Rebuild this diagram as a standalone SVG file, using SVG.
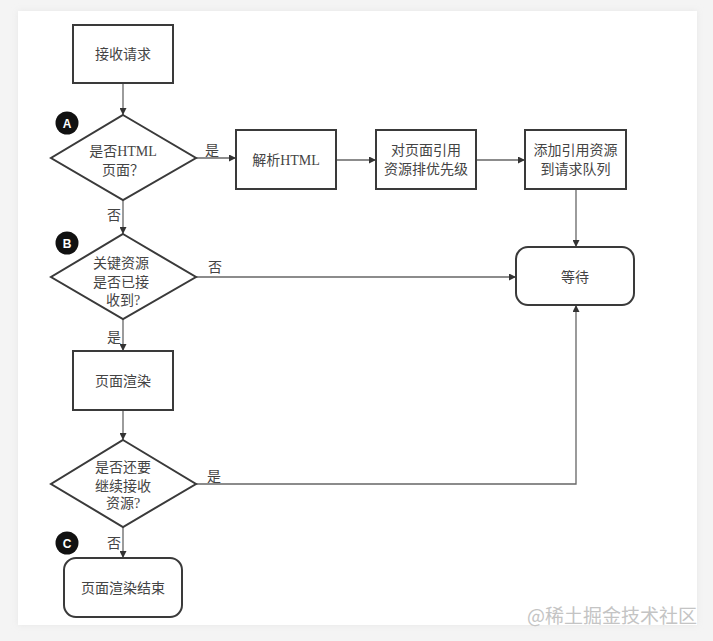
<svg xmlns="http://www.w3.org/2000/svg" width="713" height="641" viewBox="0 0 713 641">
<defs>
<marker id="ah" viewBox="0 0 10 10" refX="10" refY="5" markerWidth="7" markerHeight="7" orient="auto" markerUnits="userSpaceOnUse"><path d="M0,0 L10,5 L0,10 z" fill="#333"/></marker>
<filter id="sh" x="-5%" y="-5%" width="110%" height="110%"><feGaussianBlur stdDeviation="3"/></filter>
<style>
.n{fill:#fff;stroke:#3a3a3a;stroke-width:2}
.t{font-family:"Liberation Serif","Noto Sans CJK SC",serif;font-size:14px;fill:#444;text-anchor:middle}
.l{font-family:"Liberation Serif","Noto Sans CJK SC",serif;font-size:14px;fill:#444}
.c{fill:none;stroke:#666;stroke-width:1.3}
.dot{fill:#111}
.dl{font-family:"Liberation Sans",sans-serif;font-size:12px;font-weight:bold;fill:#fff;text-anchor:middle}
</style>
</defs>
<rect x="0" y="0" width="713" height="641" fill="#f4f4f4"/>
<rect x="18" y="11" width="679" height="614" fill="#e6e6e6" filter="url(#sh)"/>
<rect x="18" y="11" width="679" height="614" fill="#fff"/>
<g id="connectors">
<line class="c" x1="123" y1="83" x2="123" y2="115" marker-end="url(#ah)"/>
<line class="c" x1="196" y1="158" x2="236" y2="158" marker-end="url(#ah)"/>
<line class="c" x1="336" y1="160" x2="376" y2="160" marker-end="url(#ah)"/>
<line class="c" x1="476" y1="160" x2="525" y2="160" marker-end="url(#ah)"/>
<line class="c" x1="576" y1="189" x2="576" y2="247" marker-end="url(#ah)"/>
<line class="c" x1="123" y1="200" x2="123" y2="234" marker-end="url(#ah)"/>
<line class="c" x1="196" y1="277" x2="516" y2="277" marker-end="url(#ah)"/>
<line class="c" x1="123" y1="319" x2="123" y2="351" marker-end="url(#ah)"/>
<line class="c" x1="123" y1="410" x2="123" y2="440" marker-end="url(#ah)"/>
<polyline class="c" points="196,484 576,484 576,305" marker-end="url(#ah)"/>
<line class="c" x1="123" y1="527" x2="123" y2="558" marker-end="url(#ah)"/>
<text class="l" x="205" y="155">是</text>
<text class="l" x="107" y="220">否</text>
<text class="l" x="208" y="272">否</text>
<text class="l" x="107" y="342">是</text>
<text class="l" x="207" y="481">是</text>
<text class="l" x="107" y="548">否</text>
</g>
<g id="n-receive">
<rect class="n" x="73" y="25" width="100" height="58"/>
<text class="t" x="123" y="59">接收请求</text>
</g>
<g id="n-isHtml">
<polygon class="n" points="123,115 196,158 123,200 51,158"/>
<text class="t" x="123" y="156">是否HTML</text>
<text class="t" x="123" y="175">页面？</text>
</g>
<g id="mark-a"><circle class="dot" cx="67" cy="123" r="11.5"/><text class="dl" x="67" y="127.5">A</text></g>
<g id="n-parse">
<rect class="n" x="236" y="130" width="100" height="59"/>
<text class="t" x="286" y="165">解析HTML</text>
</g>
<g id="n-priority">
<rect class="n" x="376" y="130" width="100" height="59"/>
<text class="t" x="426" y="155">对页面引用</text>
<text class="t" x="426" y="174">资源排优先级</text>
</g>
<g id="n-queue">
<rect class="n" x="525" y="130" width="101" height="59"/>
<text class="t" x="575.5" y="155">添加引用资源</text>
<text class="t" x="575.5" y="174">到请求队列</text>
</g>
<g id="n-wait">
<rect class="n" x="516" y="247" width="118" height="58" rx="12"/>
<text class="t" x="575" y="282">等待</text>
</g>
<g id="n-keyRes">
<polygon class="n" points="123,234 196,277 123,319 51,277"/>
<text class="t" x="121" y="268">关键资源</text>
<text class="t" x="121" y="287">是否已接</text>
<text class="t" x="123" y="305">收到?</text>
</g>
<g id="mark-b"><circle class="dot" cx="67" cy="243" r="11.5"/><text class="dl" x="67" y="247.5">B</text></g>
<g id="n-render">
<rect class="n" x="73" y="351" width="100" height="59"/>
<text class="t" x="123" y="386">页面渲染</text>
</g>
<g id="n-continue">
<polygon class="n" points="123,440 196,484 123,527 51,484"/>
<text class="t" x="123" y="472">是否还要</text>
<text class="t" x="123" y="491">继续接收</text>
<text class="t" x="123" y="508">资源?</text>
</g>
<g id="mark-c"><circle class="dot" cx="67" cy="543" r="11.5"/><text class="dl" x="67" y="547.5">C</text></g>
<g id="n-end">
<rect class="n" x="64" y="558" width="118" height="59" rx="12"/>
<text class="t" x="123" y="593">页面渲染结束</text>
</g>
<text x="697" y="623" font-family="'Noto Sans CJK SC',sans-serif" font-size="19" fill="#c4c4c4" text-anchor="end">@稀土掘金技术社区</text>
</svg>
